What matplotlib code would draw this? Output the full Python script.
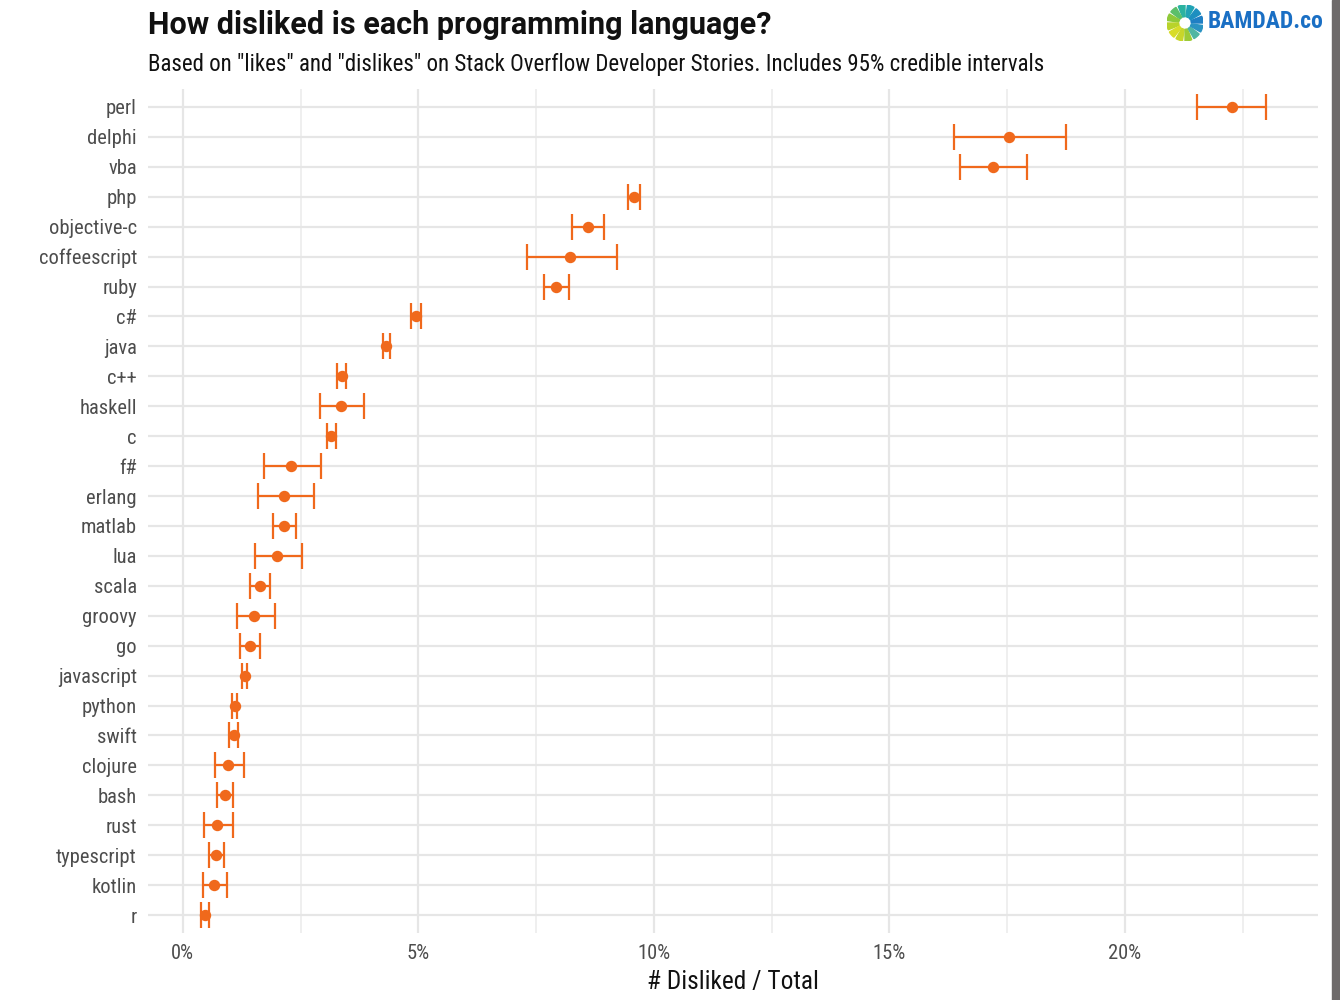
import matplotlib
matplotlib.use("Agg")
import matplotlib.pyplot as plt
from matplotlib.patches import Wedge, Rectangle
from matplotlib.ticker import FixedLocator, FuncFormatter
import matplotlib.font_manager as fm

names = {f.name for f in fm.fontManager.ttflist}
cands = ['Roboto Condensed', 'Liberation Sans Narrow', 'Roboto', 'DejaVu Sans']
FONT = [c for c in cands if c in names] or ['DejaVu Sans']
TFONT = [c for c in ['Roboto', 'DejaVu Sans'] if c in names] or ['DejaVu Sans']
plt.rcParams['font.family'] = FONT

languages = ['perl', 'delphi', 'vba', 'php', 'objective-c', 'coffeescript', 'ruby',
             'c#', 'java', 'c++', 'haskell', 'c', 'f#', 'erlang', 'matlab', 'lua',
             'scala', 'groovy', 'go', 'javascript', 'python', 'swift', 'clojure',
             'bash', 'rust', 'typescript', 'kotlin', 'r']
estimate = [22.27, 17.54, 17.20, 9.57, 8.60, 8.22, 7.92, 4.95, 4.32, 3.37, 3.35, 3.15,
            2.29, 2.15, 2.15, 2.00, 1.63, 1.51, 1.43, 1.32, 1.10, 1.08, 0.96, 0.89,
            0.72, 0.70, 0.66, 0.47]
low = [21.54, 16.38, 16.50, 9.45, 8.27, 7.30, 7.66, 4.85, 4.25, 3.27, 2.92, 3.05,
       1.72, 1.60, 1.92, 1.54, 1.42, 1.14, 1.22, 1.26, 1.05, 0.97, 0.69, 0.73,
       0.44, 0.55, 0.42, 0.39]
high = [22.99, 18.76, 17.93, 9.71, 8.95, 9.21, 8.20, 5.05, 4.39, 3.47, 3.84, 3.25,
        2.94, 2.78, 2.40, 2.53, 1.85, 1.96, 1.64, 1.37, 1.14, 1.18, 1.30, 1.06,
        1.06, 0.88, 0.93, 0.56]
major_ticks = [0, 5, 10, 15, 20]
minor_ticks = [2.5, 7.5, 12.5, 17.5, 22.5]

W, H = 1340, 1000
fig = plt.figure(figsize=(W / 100, H / 100), dpi=100)
fig.patch.set_facecolor('white')

L, R, T, B = 148, 1318, 89, 933
ax = fig.add_axes([L / W, 1 - B / H, (R - L) / W, (B - T) / H])
ax.set_facecolor('white')

n = len(languages)
ypos = list(range(n))[::-1]
orange = '#f0691c'
xerr = [[e - l for e, l in zip(estimate, low)], [h - e for e, h in zip(estimate, high)]]
ax.errorbar(estimate, ypos, xerr=xerr, fmt='o', color=orange, ecolor=orange,
            markersize=7.2, elinewidth=1.6, capsize=9.5, capthick=1.6, zorder=3)

ax.set_ylim(-0.6, n - 0.4)
ax.set_xlim(-0.74, 24.1)
ax.set_yticks(ypos)
ax.set_yticklabels(languages)
ax.xaxis.set_major_locator(FixedLocator(major_ticks))
ax.xaxis.set_minor_locator(FixedLocator(minor_ticks))
ax.xaxis.set_major_formatter(FuncFormatter(lambda v, p: f"{v:.0f}%"))
ax.grid(True, which='major', color='#e6e6e6', linewidth=1.6, zorder=0)
ax.grid(True, which='minor', axis='x', color='#efefef', linewidth=1.4, zorder=0)
ax.set_axisbelow(True)
for s in ax.spines.values():
    s.set_visible(False)
ax.tick_params(axis='both', which='both', length=0, colors='#4d4d4d', labelsize=14.8)
ax.tick_params(axis='y', pad=8)
ax.tick_params(axis='x', pad=8)
ax.set_xlabel('# Disliked / Total', fontsize=18.3, color='#111111', labelpad=5)

fig.text(L / W, 1 - 25 / H, 'How disliked is each programming language?',
         fontsize=22, fontweight='bold', color='#111111', va='center', ha='left',
         family=TFONT)
fig.text(L / W, 1 - 65 / H,
         'Based on "likes" and "dislikes" on Stack Overflow Developer Stories. Includes 95% credible intervals',
         fontsize=16.5, color='#111111', va='center', ha='left')

# logo
lax = fig.add_axes([1167 / W, 1 - 41 / H, 36 / W, 36 / H])
lax.set_xlim(-1, 1); lax.set_ylim(-1, 1); lax.set_aspect('equal'); lax.axis('off')
wcols = ['#1f7fc4', '#1d8fc0', '#20a3b5', '#2bb3a0', '#5cbf6a', '#8fc93a', '#b9d32a',
         '#d8dc28', '#c8d62a', '#9ccb36', '#4fb6a2', '#2a93c2']
for i, c in enumerate(wcols):
    a0 = i * 30
    lax.add_patch(Wedge((0, 0), 1.0, a0, a0 + 22, width=0.65, color=c))
fig.text(1208 / W, 1 - 22 / H, 'BAMDAD.co', fontsize=17, fontweight='bold',
         color='#1a6fc4', va='center', ha='left', family=FONT)

fig.patches.append(Rectangle((1332 / W, 0), 8 / W, 1, transform=fig.transFigure,
                             color='#6e6a6a', zorder=10))

fig.savefig('out.png', dpi=100, facecolor='white')
